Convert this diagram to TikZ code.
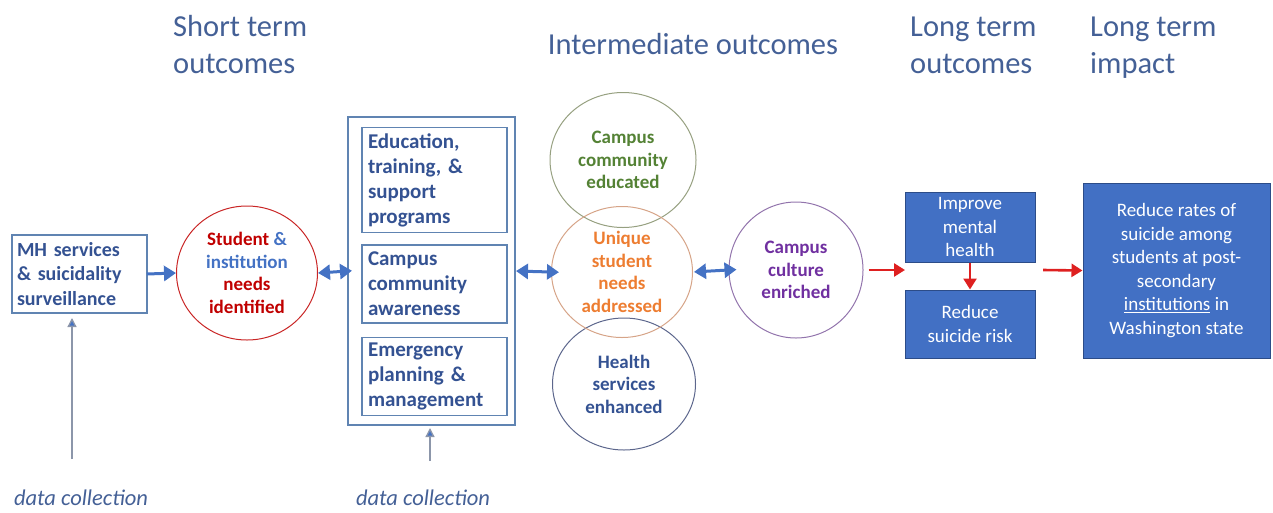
\documentclass[tikz,border=0pt]{standalone}
\usepackage{fontspec}
\setmainfont{Carlito}
\usetikzlibrary{arrows.meta,shapes.geometric}
\definecolor{titleblue}{RGB}{68,96,150}
\definecolor{darkblue}{RGB}{52,82,146}
\definecolor{midblue}{RGB}{68,114,196}
\definecolor{frameblue}{RGB}{96,132,178}
\definecolor{redtxt}{RGB}{192,0,0}
\definecolor{redarrow}{RGB}{222,32,32}
\definecolor{greentxt}{RGB}{84,130,53}
\definecolor{greenring}{RGB}{150,160,128}
\definecolor{orangetxt}{RGB}{237,125,49}
\definecolor{orangering}{RGB}{214,164,136}
\definecolor{navyring}{RGB}{92,102,140}
\definecolor{purpletxt}{RGB}{112,48,160}
\definecolor{purplering}{RGB}{146,116,172}
\definecolor{fillblue}{RGB}{66,112,196}
\definecolor{fillborder}{RGB}{44,76,136}
\definecolor{greyline}{RGB}{140,150,170}
\begin{document}
\begin{tikzpicture}[x=1pt,y=-1pt,
  title/.style={anchor=base west,text=titleblue,font=\fontsize{30.5}{37}\selectfont,inner sep=0pt},
  lbl/.style={font=\bfseries\fontsize{19}{22.5}\selectfont,align=center,inner sep=0pt},
  ring/.style={ellipse,draw,line width=1pt,inner sep=0pt},
  framebox/.style={draw=frameblue,line width=1.2pt,inner sep=0pt,outer sep=0pt},
  innerbox/.style={framebox,text width=133pt,align=left,inner xsep=6pt,text=darkblue,font=\bfseries\fontsize{21}{25}\selectfont},
  solidbox/.style={draw=fillborder,line width=1pt,fill=fillblue,text=white,align=center,font=\fontsize{19}{23.5}\selectfont,inner sep=0pt},
  bluehead/.style={Triangle[length=12pt,width=15pt]},
  blueflow/.style={draw=midblue,line width=3pt,-{Triangle[length=12pt,width=15pt]}},
  bluedouble/.style={draw=midblue,line width=3pt,{Triangle[length=12pt,width=15pt]}-{Triangle[length=12pt,width=15pt]}},
  redflow/.style={draw=redarrow,line width=2.6pt,-{Triangle[length=11pt,width=13pt]}},
  feed/.style={draw=greyline,line width=1.3pt,-{Triangle[length=9pt,width=9pt,fill=midblue]}},
  note/.style={font=\itshape\fontsize{22.5}{26}\selectfont,text=titleblue,inner sep=0pt,anchor=base}]
\useasboundingbox (0,0) rectangle (1273,512);

% column headings
\node[title] (h1a) at (173,36) {Short term};
\node[title] (h1b) at (173,73) {outcomes};
\node[title,anchor=base] (h2) at (693,54) {Intermediate outcomes};
\node[title] (h3a) at (910,36) {Long term};
\node[title] (h3b) at (910,73) {outcomes};
\node[title] (h4a) at (1090,36) {Long term};
\node[title] (h4b) at (1090,73) {impact};

% surveillance input
\node[framebox,minimum width=135pt,minimum height=78pt,text width=125pt,align=left,
      text=darkblue,font=\bfseries\fontsize{20}{24.5}\selectfont] (mh) at (79.5,274)
  {MH services\\\& suicidality\\surveillance};

% needs identification
\node[ring,draw=redtxt!85,minimum width=141pt,minimum height=134pt] (stud) at (247,273) {};
\node[lbl] (studtxt) at (stud.center)
  {\textcolor{redtxt}{Student} \textcolor{midblue}{\&}\\\textcolor{midblue}{institution}\\\textcolor{redtxt}{needs}\\\textcolor{redtxt}{identified}};

% programme activities
\node[framebox,minimum width=167pt,minimum height=308pt] (outer) at (431.5,271) {};
\node[innerbox,minimum height=105pt] (edu) at (434.5,180) {Education,\\training, \&\\support\\programs};
\node[innerbox,minimum height=78pt] (aware) at (434.5,284) {Campus\\community\\awareness};
\node[innerbox,minimum height=78pt] (emerg) at (434.5,376.5) {Emergency\\planning \&\\management};

% intermediate outcomes
\node[ring,draw=greenring,minimum width=146pt,minimum height=135pt] (edc) at (623,160) {};
\node[lbl,text=greentxt] at (edc.center) {Campus\\community\\educated};
\node[ring,draw=navyring,minimum width=143pt,minimum height=132pt] (hlth) at (624,384) {};
\node[lbl,text=darkblue] at (hlth.center) {Health\\services\\enhanced};
\node[ring,draw=orangering,minimum width=141pt,minimum height=131pt] (uniq) at (622,272) {};
\node[lbl,text=orangetxt] at (uniq.center) {Unique\\student\\needs\\addressed};
\node[ring,draw=purplering,minimum width=134pt,minimum height=136pt] (cult) at (796,270) {};
\node[lbl,text=purpletxt] at (cult.center) {Campus\\culture\\enriched};

% long term outcomes and impact
\node[solidbox,minimum width=130pt,minimum height=70pt] (ment) at (970,227) {Improve\\mental\\health};
\node[solidbox,minimum width=130pt,minimum height=68pt] (risk) at (970,324) {Reduce\\suicide risk};
\node[solidbox,minimum width=187pt,minimum height=175pt] (impact) at (1176.5,270.5)
  {Reduce rates of\\suicide among\\students at post-\\secondary\\\underline{institutions} in\\Washington state};

\coordinate (ltin) at (905,270);
\coordinate (ltout) at (1043,270);

% connectors
\draw[blueflow] (mh.east) -- (stud.west);
\draw[bluedouble,shorten >=-4pt] (stud.east) -- (outer.west);
\draw[bluedouble,shorten <=1pt,shorten >=-8pt] (outer.east) -- (uniq.west);
\draw[bluedouble,shorten <=1pt,shorten >=-8pt] (uniq.east) -- (cult.west);
\draw[redflow,shorten <=5pt] (cult.east) -- (ltin);
\draw[redflow] (ment.south) -- (risk.north);
\draw[redflow] (ltout) -- (impact.west);

% data collection feeds
\node[note] (dc1) at (81,505) {data collection};
\node[note] (dc2) at (423,505) {data collection};
\draw[feed,shorten <=30pt,shorten >=5pt] ([xshift=-9pt]dc1.north) -- ([xshift=-7.5pt]mh.south);
\draw[feed,shorten <=28pt,shorten >=3pt] ([xshift=7pt]dc2.north) -- ([xshift=-1.5pt]outer.south);
\end{tikzpicture}
\end{document}
